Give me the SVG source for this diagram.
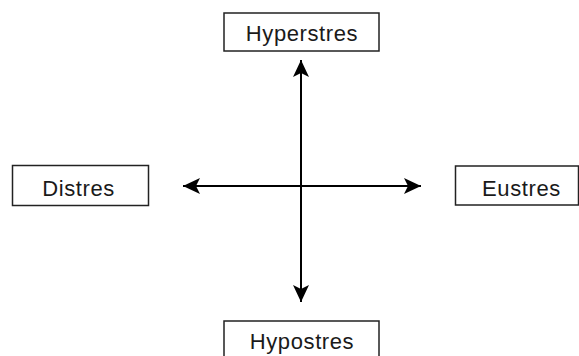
<svg xmlns="http://www.w3.org/2000/svg" width="579" height="356" viewBox="0 0 579 356">
<defs>
<style>
.box{fill:#fff;stroke:#222;stroke-width:1.5}
.lbl{font-family:"Liberation Sans",Arial,sans-serif;font-size:22px;letter-spacing:0.6px;fill:#1a1a1a;text-anchor:middle}
.edge{stroke:#000;stroke-width:2;fill:none}
</style>
<marker id="ah" viewBox="0 0 17 18" refX="17" refY="9" markerWidth="17" markerHeight="18" markerUnits="userSpaceOnUse" orient="auto-start-reverse">
<path d="M17,9 L0,1 L4,9 L0,17 Z" fill="#000"/>
</marker>
</defs>
<g id="connectors">
<line class="edge" x1="301" y1="186" x2="301" y2="60" marker-end="url(#ah)"/>
<line class="edge" x1="301" y1="186" x2="301" y2="302" marker-end="url(#ah)"/>
<line class="edge" x1="301" y1="186" x2="183" y2="186" marker-end="url(#ah)"/>
<line class="edge" x1="301" y1="186" x2="421" y2="186" marker-end="url(#ah)"/>
</g>
<g id="hyperstres">
<rect class="box" x="224" y="13" width="155" height="38"/>
<text class="lbl" x="302" y="41">Hyperstres</text>
</g>
<g id="distres">
<rect class="box" x="12.5" y="165.5" width="136" height="40"/>
<text class="lbl" x="78.5" y="196">Distres</text>
</g>
<g id="eustres">
<rect class="box" x="455.5" y="166" width="123" height="39"/>
<text class="lbl" x="521.5" y="196">Eustres</text>
</g>
<g id="hypostres">
<rect class="box" x="224" y="321" width="155" height="40"/>
<text class="lbl" x="302" y="349">Hypostres</text>
</g>
</svg>
